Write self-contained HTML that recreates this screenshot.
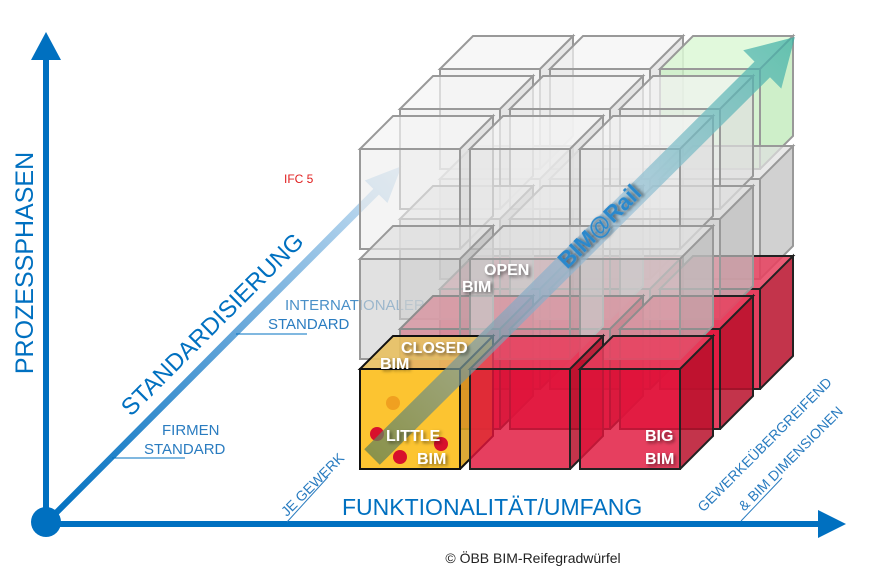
<!DOCTYPE html>
<html><head><meta charset="utf-8"><style>
html,body{margin:0;padding:0;background:#fff;width:874px;height:577px;overflow:hidden}
svg{display:block}
text{font-family:"Liberation Sans",Arial,sans-serif}
</style></head><body>
<svg width="874" height="577" viewBox="0 0 874 577" xmlns="http://www.w3.org/2000/svg">
<defs>
<linearGradient id="lb" x1="0" y1="0" x2="1" y2="0">
<stop offset="0" stop-color="#0070c0"/><stop offset="0.5" stop-color="#5fa3d8"/><stop offset="1" stop-color="#cfe3f3"/></linearGradient>
<linearGradient id="ta" x1="0" y1="0" x2="1" y2="0">
<stop offset="0" stop-color="#5e7f55"/><stop offset="0.35" stop-color="#8aa9c4"/><stop offset="0.6" stop-color="#9cc2d8"/><stop offset="1" stop-color="#3bb0a4"/></linearGradient>
<filter id="sh" x="-20%" y="-20%" width="140%" height="140%"><feDropShadow dx="2" dy="2" stdDeviation="1.5" flood-color="#000" flood-opacity="0.5"/></filter>
<g id="gT">
<polygon points="0,0 33,-33 133,-33 100,0" fill="#f4f4f4" fill-opacity="0.7"/>
<polygon points="100,0 133,-33 133,67 100,100" fill="#dedede" fill-opacity="0.7"/>
<rect x="0" y="0" width="100" height="100" fill="#ececec" fill-opacity="0.6"/>
<path d="M0,0 L33,-33 L133,-33 L100,0 Z M100,0 L133,-33 L133,67 L100,100 M0,0 H100 V100 H0 Z" fill="none" stroke="#999" stroke-width="2"/>
</g>
<g id="gM">
<polygon points="0,0 33,-33 133,-33 100,0" fill="#e0e0e0" fill-opacity="0.7"/>
<polygon points="100,0 133,-33 133,67 100,100" fill="#bdbdbd" fill-opacity="0.7"/>
<rect x="0" y="0" width="100" height="100" fill="#cfcfcf" fill-opacity="0.62"/>
<path d="M0,0 L33,-33 L133,-33 L100,0 Z M100,0 L133,-33 L133,67 L100,100 M0,0 H100 V100 H0 Z" fill="none" stroke="#999" stroke-width="2"/>
</g>
<g id="gR">
<polygon points="0,0 33,-33 133,-33 100,0" fill="#e8405e" fill-opacity="0.85"/>
<polygon points="100,0 133,-33 133,67 100,100" fill="#b8102c" fill-opacity="0.85"/>
<rect x="0" y="0" width="100" height="100" fill="#e0153c" fill-opacity="0.82"/>
<path d="M0,0 L33,-33 L133,-33 L100,0 Z M100,0 L133,-33 L133,67 L100,100 M0,0 H100 V100 H0 Z" fill="none" stroke="#222" stroke-width="2"/>
</g>
<g id="gG">
<polygon points="0,0 33,-33 133,-33 100,0" fill="#dcf8d6" fill-opacity="0.85"/>
<polygon points="100,0 133,-33 133,67 100,100" fill="#c6ecc0" fill-opacity="0.85"/>
<rect x="0" y="0" width="100" height="100" fill="#ccf0c6" fill-opacity="0.8"/>
<path d="M0,0 L33,-33 L133,-33 L100,0 Z M100,0 L133,-33 L133,67 L100,100 M0,0 H100 V100 H0 Z" fill="none" stroke="#999" stroke-width="2"/>
</g>
<g id="gY">
<polygon points="0,0 33,-33 133,-33 100,0" fill="#e8c060" fill-opacity="0.9"/>
<polygon points="100,0 133,-33 133,67 100,100" fill="#d8a020" fill-opacity="0.9"/>
<rect x="0" y="0" width="100" height="100" fill="#fcc431"/>
<path d="M0,0 L33,-33 L133,-33 L100,0 Z M100,0 L133,-33 L133,67 L100,100 M0,0 H100 V100 H0 Z" fill="none" stroke="#111" stroke-width="2"/>
</g>
</defs>

<g transform="translate(50,519) rotate(-45.1)">
<polygon points="0,-3 462,-4 462,-16 498,0 462,16 462,4 0,3" fill="url(#lb)"/>
</g>
<line x1="236" y1="334" x2="307" y2="334" stroke="#0070c0" stroke-width="1"/>
<line x1="112" y1="458" x2="185" y2="458" stroke="#0070c0" stroke-width="1"/>
<text x="285" y="310" font-size="15" fill="#4a90c8">INTERNATIONALER</text>
<text x="268" y="329" font-size="15" fill="#2a7cc0">STANDARD</text>
<text x="162" y="435" font-size="15" fill="#2a7cc0">FIRMEN</text>
<text x="144" y="454" font-size="15" fill="#2a7cc0">STANDARD</text>
<text x="284" y="183" font-size="12" fill="#e02020">IFC 5</text>

<use href="#gT" x="440" y="69"/><use href="#gT" x="550" y="69"/><use href="#gG" x="660" y="69"/>
<use href="#gM" x="440" y="179"/><use href="#gM" x="550" y="179"/><use href="#gM" x="660" y="179"/>
<use href="#gR" x="440" y="289"/><use href="#gR" x="550" y="289"/><use href="#gR" x="660" y="289"/>
<use href="#gT" x="400" y="109"/><use href="#gT" x="510" y="109"/><use href="#gT" x="620" y="109"/>
<use href="#gM" x="400" y="219"/><use href="#gM" x="510" y="219"/><use href="#gM" x="620" y="219"/>
<use href="#gR" x="400" y="329"/><use href="#gR" x="510" y="329"/><use href="#gR" x="620" y="329"/>
<use href="#gT" x="360" y="149"/><use href="#gT" x="470" y="149"/><use href="#gT" x="580" y="149"/>
<use href="#gM" x="360" y="259"/><use href="#gM" x="470" y="259"/><use href="#gM" x="580" y="259"/>
<use href="#gY" x="360" y="369"/><use href="#gR" x="470" y="369"/><use href="#gR" x="580" y="369"/>

<circle cx="393" cy="403" r="7" fill="#f0a020"/>
<circle cx="377" cy="434" r="7" fill="#d8102c"/>
<circle cx="400" cy="457" r="7" fill="#d8102c"/>
<circle cx="441" cy="444" r="7" fill="#d8102c"/>

<g transform="translate(372,457) rotate(-44.8)" opacity="0.72">
<polygon points="0,-11 550,-11 550,-27 596,0 550,27 550,11 0,11" fill="url(#ta)"/>
</g>

<g font-weight="bold" fill="#fff" font-size="16" filter="url(#sh)">
<text x="484" y="275">OPEN</text>
<text x="462" y="292">BIM</text>
<text x="401" y="353">CLOSED</text>
<text x="380" y="369">BIM</text>
<text x="386" y="441">LITTLE</text>
<text x="417" y="464">BIM</text>
<text x="645" y="441">BIG</text>
<text x="645" y="464">BIM</text>
</g>
<text transform="translate(605,232) rotate(-45)" text-anchor="middle" font-size="23" font-weight="bold" fill="#2a88cc" filter="url(#sh)">BIM@Rail</text>

<rect x="43" y="55" width="6" height="468" fill="#0070c0"/>
<polygon points="31,60 46,32 61,60" fill="#0070c0"/>
<rect x="46" y="521" width="775" height="6" fill="#0070c0"/>
<polygon points="818,510 846,524 818,538" fill="#0070c0"/>
<circle cx="46" cy="522" r="15" fill="#0070c0"/>

<text transform="translate(33,263) rotate(-90)" text-anchor="middle" font-size="25" fill="#0070c0">PROZESSPHASEN</text>
<text transform="translate(218,330) rotate(-45)" text-anchor="middle" font-size="24" fill="#0070c0">STANDARDISIERUNG</text>
<text x="342" y="515" font-size="23" fill="#0070c0">FUNKTIONALITÄT/UMFANG</text>
<text transform="translate(316,488) rotate(-45)" text-anchor="middle" font-size="14" fill="#2a7cc0">JE GEWERK</text>
<line x1="287" y1="522" x2="328" y2="477" stroke="#2a7cc0" stroke-width="1"/>
<text transform="translate(768,448) rotate(-45)" text-anchor="middle" font-size="14" fill="#2a7cc0">GEWERKEÜBERGREIFEND</text>
<text transform="translate(794,462) rotate(-45)" text-anchor="middle" font-size="14" fill="#2a7cc0">&amp; BIM DIMENSIONEN</text>
<line x1="741" y1="521" x2="782" y2="478" stroke="#2a7cc0" stroke-width="1"/>

<text x="533" y="563" text-anchor="middle" font-size="14" fill="#222">© ÖBB BIM-Reifegradwürfel</text>
</svg>
</body></html>
